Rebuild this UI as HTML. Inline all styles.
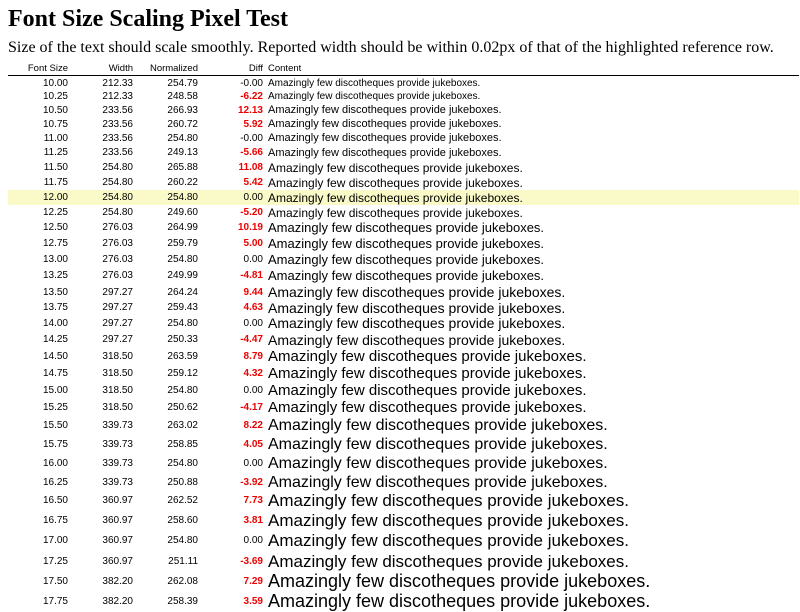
<!DOCTYPE html>
<html><head><meta charset="utf-8">
<style>
body{margin:0;width:800px;height:600px;overflow:hidden;background:#fff;font-family:"Liberation Sans",sans-serif;color:#000;position:relative}
#title{position:absolute;left:8px;top:6px;font:bold 24px "Liberation Serif",serif;margin:0;white-space:nowrap}
#sub{position:absolute;left:8px;top:39px;font:16px "Liberation Serif",serif;white-space:nowrap}
.hd{position:absolute;top:63px;font-size:9.5px;white-space:nowrap}
#hline{position:absolute;left:8px;top:75px;width:791px;height:1px;background:#000}
.row{position:absolute;left:8px;width:791px}
.row.hl{background:#fafac8}
.c{position:absolute;top:0;font-size:10px;white-space:nowrap;text-align:right}
.red{color:#e00;font-weight:bold}
.txt{position:absolute;left:260px;top:0;white-space:nowrap}
</style></head><body>
<h1 id="title">Font Size Scaling Pixel Test</h1>
<div id="sub">Size of the text should scale smoothly. Reported width should be within 0.02px of that of the highlighted reference row.</div>
<div class="hd" style="left:8px;width:60px;text-align:right">Font Size</div>
<div class="hd" style="left:73px;width:60px;text-align:right">Width</div>
<div class="hd" style="left:128px;width:70px;text-align:right">Normalized</div>
<div class="hd" style="left:203px;width:60px;text-align:right">Diff</div>
<div class="hd" style="left:268px">Content</div>
<div id="hline"></div>
<div id="rows"></div>
<script>
const sizes=["10.00","10.25","10.50","10.75","11.00","11.25","11.50","11.75","12.00","12.25","12.50","12.75","13.00","13.25","13.50","13.75","14.00","14.25","14.50","14.75","15.00","15.25","15.50","15.75","16.00","16.25","16.50","16.75","17.00","17.25","17.50","17.75"];
const widths=["212.33","212.33","233.56","233.56","233.56","233.56","254.80","254.80","254.80","254.80","276.03","276.03","276.03","276.03","297.27","297.27","297.27","297.27","318.50","318.50","318.50","318.50","339.73","339.73","339.73","339.73","360.97","360.97","360.97","360.97","382.20","382.20"];
const normalized=["254.79","248.58","266.93","260.72","254.80","249.13","265.88","260.22","254.80","249.60","264.99","259.79","254.80","249.99","264.24","259.43","254.80","250.33","263.59","259.12","254.80","250.62","263.02","258.85","254.80","250.88","262.52","258.60","254.80","251.11","262.08","258.39"];
const diffs=["-0.00","-6.22","12.13","5.92","-0.00","-5.66","11.08","5.42","0.00","-5.20","10.19","5.00","0.00","-4.81","9.44","4.63","0.00","-4.47","8.79","4.32","0.00","-4.17","8.22","4.05","0.00","-3.92","7.73","3.81","0.00","-3.69","7.29","3.59"];
const centers=[83,96,110,124,138,152,167,182,197,212,227,243,259,275,292,307,323,339,356,373,390,407,424,444,464,481,500,520,540,561,581,601];
const refIndex=8;
const content="Amazingly few discotheques provide jukeboxes.";
const host=document.getElementById('rows');
sizes.forEach((s,i)=>{
  const prev=i>0?centers[i-1]:centers[0]-13;
  const next=i<centers.length-1?centers[i+1]:centers[i]+20;
  const top=Math.round((prev+centers[i])/2), bot=Math.round((centers[i]+next)/2);
  const h=bot-top;
  const r=document.createElement('div');
  
  
  r.className='row'+(i===refIndex?' hl':'');
  r.style.top=top+'px';r.style.height=h+'px';
  const fs=Math.round(parseFloat(s));
  const cells=[[s,0,60,'font-size-cell'],[widths[i],65,60,'width-cell'],[normalized[i],120,70,'normalized-cell'],[diffs[i],195,60,'diff-cell']];
  cells.forEach(([t,l,w,n])=>{
    const c=document.createElement('div');
    
    
    c.className='c';
    if(n==='diff-cell'&&Math.abs(parseFloat(t))>0.005)c.className+=' red';
    c.style.left=l+'px';c.style.width=w+'px';c.style.lineHeight=(h+1)+'px';
    c.textContent=t;r.appendChild(c);
  });
  const t=document.createElement('div');
  
  
  t.className='txt';t.style.fontSize=fs+'px';t.style.lineHeight=(h+1)+'px';
  t.textContent=content;r.appendChild(t);
  host.appendChild(r);
});
</script>
</body></html>
